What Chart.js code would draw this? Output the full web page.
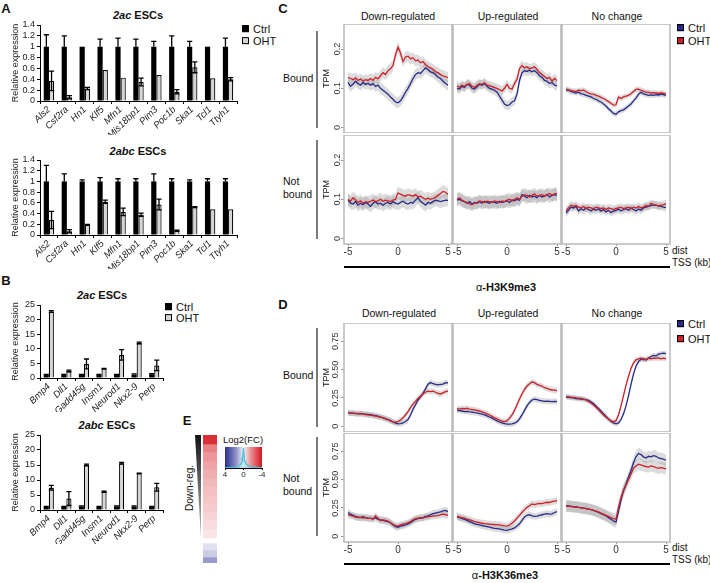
<!DOCTYPE html>
<html>
<head>
<meta charset="utf-8">
<script src="https://cdn.jsdelivr.net/npm/chart.js@4.4.0/dist/chart.umd.min.js"></script>
<style>
  body { margin: 0; background: #fff; }
  #fig { position: relative; width: 710px; height: 583px; overflow: hidden;
         font-family: "Liberation Sans", Arial, sans-serif; color: #111; }
  #fig canvas { position: absolute; }
  .t { position: absolute; white-space: nowrap; transform: translate(-50%, -50%); font-size: 10px; line-height: 1.25; }
  .l { transform: translate(0, -50%); }
  .pl { font-weight: bold; font-size: 13px; }
  .ti { font-weight: bold; font-size: 11px; }
  .ft { font-size: 10.5px; }
  .lg { font-size: 11px; }
  .sq { display: inline-block; width: 5px; height: 5px; border: 1px solid #000; margin-right: 4px; vertical-align: 1px; }
  .vbar { position: absolute; width: 2px; background: #7a7a7a; }
  .hl { position: absolute; height: 2px; background: #000; }
</style>
</head>
<body>
<div id="fig">
  <!-- panel letters -->
  <div class="t pl" style="left:6px;top:9px">A</div>
  <div class="t pl" style="left:6px;top:281px">B</div>
  <div class="t pl" style="left:283px;top:9px">C</div>
  <div class="t pl" style="left:283px;top:305px">D</div>
  <div class="t pl" style="left:187px;top:421px">E</div>

  <!-- A / B titles and legends -->
  <div class="t ti" style="left:138px;top:16px"><i>2ac</i> ESCs</div>
  <div class="t ti" style="left:138px;top:152px"><i>2abc</i> ESCs</div>
  <div class="t ti" style="left:102px;top:296px"><i>2ac</i> ESCs</div>
  <div class="t ti" style="left:107px;top:426px"><i>2abc</i> ESCs</div>
  <div class="t l lg" style="left:242px;top:30px"><span class="sq" style="background:#000"></span>Ctrl</div>
  <div class="t l lg" style="left:242px;top:42px"><span class="sq" style="background:#d6d6d6"></span>OHT</div>
  <div class="t l lg" style="left:165px;top:308px"><span class="sq" style="background:#000"></span>Ctrl</div>
  <div class="t l lg" style="left:165px;top:319px"><span class="sq" style="background:#d6d6d6"></span>OHT</div>

  <!-- C -->
  <div class="t ft" style="left:398px;top:17px">Down-regulated</div>
  <div class="t ft" style="left:508px;top:17px">Up-regulated</div>
  <div class="t ft" style="left:617px;top:17px">No change</div>
  <div class="t l lg" style="left:677px;top:29px"><span class="sq" style="background:#262b8c"></span>Ctrl</div>
  <div class="t l lg" style="left:677px;top:42px"><span class="sq" style="background:#d11f27"></span>OHT</div>
  <div class="t l ft" style="left:283px;top:79px">Bound</div>
  <div class="t l ft" style="left:283px;top:188px">Not<br>bound</div>
  <div class="vbar" style="left:316px;top:31px;height:97px"></div>
  <div class="vbar" style="left:316px;top:140px;height:99px"></div>
  <div class="hl" style="left:344px;top:266px;width:326px"></div>
  <div class="t l" style="left:672px;top:251px">dist</div>
  <div class="t l" style="left:672px;top:263px">TSS (kb)</div>
  <div class="t" style="left:506px;top:288px;font-size:11px">α<b>-H3K9me3</b></div>

  <!-- D -->
  <div class="t ft" style="left:399px;top:314px">Down-regulated</div>
  <div class="t ft" style="left:508px;top:314px">Up-regulated</div>
  <div class="t ft" style="left:617px;top:314px">No change</div>
  <div class="t l lg" style="left:677px;top:325px"><span class="sq" style="background:#262b8c"></span>Ctrl</div>
  <div class="t l lg" style="left:677px;top:340px"><span class="sq" style="background:#d11f27"></span>OHT</div>
  <div class="t l ft" style="left:283px;top:376px">Bound</div>
  <div class="t l ft" style="left:283px;top:485px">Not<br>bound</div>
  <div class="vbar" style="left:316px;top:328px;height:99px"></div>
  <div class="vbar" style="left:316px;top:437px;height:99px"></div>
  <div class="hl" style="left:344px;top:563px;width:326px"></div>
  <div class="t l" style="left:672px;top:548px">dist</div>
  <div class="t l" style="left:672px;top:560px">TSS (kb)</div>
  <div class="t" style="left:505px;top:576px;font-size:11px">α<b>-H3K36me3</b></div>

  <!-- E -->
  <div style="position:absolute;left:195px;top:435px;width:6px;height:105px;background:linear-gradient(#111,#c8c8c8);clip-path:polygon(0 0,100% 0,100% 100%)"></div>
  <div class="t" style="left:190px;top:488px;transform:translate(-50%,-50%) rotate(-90deg);font-size:10px">Down-reg.</div>
  <div class="t" style="left:243px;top:440px;font-size:9.5px">Log2(FC)</div>
</div>

<script>
// ---------- A: qPCR, relative expression ----------
var genesA = ["Als2","Csf2ra","Hn1","Klf5","Mfn1","Mis18bp1","Pim3","Poc1b","Ska1","Tcl1","Ttyh1"];
var ctrlA = [1,1,1,1,1,1,1,1,1,1,1];

var ctrlErrA1 = [0.22,0.2,0,0.14,0.16,0.14,0.1,0.2,0.1,0,0.16];
var ohtA1     = [0.37,0.07,0.23,0.57,0.43,0.35,0.48,0.17,0.62,0.42,0.4];
var ohtErrA1  = [0.18,0.03,0.02,0,0,0.07,0,0.04,0.1,0,0.03];

var ctrlErrA2 = [0.3,0.14,0.03,0.07,0.05,0.05,0.14,0.05,0.03,0.05,0.05];
var ohtA2     = [0.28,0.07,0.19,0.62,0.43,0.38,0.57,0.08,0.52,0.48,0.48];
var ohtErrA2  = [0.16,0.03,0.01,0.03,0.07,0.03,0.1,0.01,0.01,0,0];

var yTicksA  = [0,0.2,0.4,0.6,0.8,1,1.2,1.4];
var yLabelsA = ["0","0.2","0.4","0.6","0.8","1","1.2","1.4"];

// ---------- B ----------
var genesB = ["Bmp4","Dll1","Gadd45g","Insm1","Neurod1","Nkx2-9","Perp"];
var ctrlB1    = [1,1,1,1,1,1.2,1.3];
var ctrlErrB1 = [0.2,0.2,0.2,0.2,0.2,0.2,0.2];
var ohtB1     = [22.8,2.4,4.8,3.2,7.9,12,4.3];
var ohtErrB1  = [0.3,0.3,1.7,0.1,1.8,0.3,1.8];

var ctrlB2    = [1,1,1.2,1,1.2,1.2,1];
var ctrlErrB2 = [0.2,0.2,0.2,0.2,0.2,0.2,0.2];
var ohtB2     = [7.4,3.8,15,6.1,15.6,12.2,7.6];
var ohtErrB2  = [0.8,2.3,0.3,0.2,0.3,0.1,1.3];

var yTicksB  = [0,5,10,15,20,25];
var yLabelsB = ["0","5","10","15","20","25"];

// ---------- C / D: TSS profiles ----------
var profileX = [-5,-4.75,-4.5,-4.25,-4,-3.75,-3.5,-3.25,-3,-2.75,-2.5,-2.25,-2,-1.75,-1.5,-1.25,-1,-0.75,-0.5,-0.25,0,0.25,0.5,0.75,1,1.25,1.5,1.75,2,2.25,2.5,2.75,3,3.25,3.5,3.75,4,4.25,4.5,4.75,5];
var xTicks = [-5,0,5];

// H3K9me3
var cDownBoundCtrl = [0.115,0.105,0.11,0.118,0.112,0.108,0.115,0.11,0.113,0.108,0.112,0.105,0.108,0.1,0.095,0.09,0.085,0.078,0.072,0.065,0.063,0.068,0.078,0.09,0.1,0.112,0.125,0.135,0.14,0.138,0.145,0.152,0.148,0.142,0.14,0.135,0.128,0.125,0.118,0.112,0.108];
var cDownBoundOht  = [0.128,0.125,0.122,0.126,0.12,0.124,0.118,0.122,0.12,0.125,0.12,0.128,0.124,0.132,0.14,0.135,0.145,0.15,0.158,0.185,0.205,0.19,0.168,0.18,0.182,0.175,0.178,0.17,0.172,0.165,0.168,0.16,0.155,0.152,0.148,0.142,0.14,0.135,0.132,0.13,0.127];
var cUpBoundCtrl   = [0.1,0.098,0.105,0.102,0.11,0.108,0.1,0.098,0.104,0.11,0.108,0.112,0.105,0.1,0.098,0.095,0.09,0.08,0.07,0.06,0.056,0.058,0.065,0.068,0.085,0.12,0.14,0.145,0.143,0.146,0.142,0.145,0.14,0.132,0.128,0.12,0.118,0.112,0.115,0.108,0.106];
var cUpBoundOht    = [0.105,0.103,0.108,0.105,0.11,0.112,0.105,0.102,0.108,0.112,0.11,0.114,0.108,0.106,0.104,0.102,0.1,0.097,0.093,0.1,0.11,0.1,0.098,0.112,0.123,0.15,0.158,0.152,0.155,0.15,0.152,0.155,0.148,0.14,0.135,0.13,0.125,0.128,0.118,0.125,0.12];
var cNoneBoundCtrl = [0.096,0.095,0.092,0.09,0.088,0.09,0.086,0.085,0.082,0.08,0.078,0.074,0.072,0.068,0.065,0.06,0.055,0.048,0.042,0.036,0.034,0.04,0.043,0.045,0.05,0.055,0.06,0.068,0.075,0.085,0.09,0.086,0.084,0.082,0.083,0.082,0.084,0.083,0.085,0.084,0.082];
var cNoneBoundOht  = [0.098,0.096,0.094,0.093,0.092,0.095,0.094,0.096,0.092,0.088,0.086,0.085,0.082,0.08,0.077,0.074,0.07,0.066,0.062,0.057,0.058,0.078,0.074,0.078,0.08,0.082,0.086,0.092,0.097,0.098,0.095,0.093,0.09,0.09,0.088,0.089,0.088,0.087,0.088,0.087,0.085];
var cDownFreeCtrl  = [0.098,0.09,0.088,0.094,0.085,0.09,0.086,0.092,0.088,0.082,0.09,0.094,0.088,0.09,0.085,0.09,0.092,0.088,0.094,0.09,0.088,0.092,0.095,0.09,0.088,0.092,0.09,0.098,0.104,0.095,0.09,0.085,0.092,0.09,0.094,0.098,0.096,0.094,0.096,0.098,0.097];
var cDownFreeOht   = [0.1,0.095,0.104,0.098,0.092,0.096,0.09,0.094,0.092,0.095,0.098,0.094,0.096,0.1,0.095,0.098,0.096,0.094,0.098,0.1,0.116,0.113,0.11,0.108,0.112,0.11,0.108,0.112,0.106,0.108,0.104,0.1,0.103,0.1,0.102,0.105,0.11,0.115,0.12,0.118,0.112];
var cUpFreeCtrl    = [0.098,0.1,0.096,0.094,0.09,0.094,0.088,0.092,0.09,0.094,0.09,0.095,0.092,0.09,0.094,0.092,0.09,0.095,0.092,0.094,0.096,0.092,0.098,0.096,0.1,0.098,0.112,0.108,0.104,0.11,0.106,0.108,0.104,0.11,0.106,0.108,0.112,0.106,0.11,0.112,0.11];
var cUpFreeOht     = [0.1,0.104,0.098,0.094,0.092,0.088,0.086,0.09,0.092,0.096,0.094,0.092,0.095,0.094,0.092,0.096,0.094,0.092,0.096,0.094,0.098,0.1,0.096,0.1,0.104,0.1,0.108,0.112,0.11,0.106,0.11,0.114,0.108,0.11,0.112,0.108,0.112,0.115,0.11,0.114,0.115];
var cNoneFreeCtrl  = [0.065,0.072,0.08,0.078,0.082,0.07,0.076,0.072,0.078,0.074,0.07,0.075,0.072,0.076,0.07,0.074,0.068,0.072,0.066,0.07,0.072,0.075,0.07,0.074,0.076,0.072,0.078,0.074,0.07,0.075,0.072,0.078,0.08,0.082,0.084,0.086,0.085,0.083,0.082,0.08,0.079];
var cNoneFreeOht   = [0.07,0.078,0.085,0.082,0.084,0.08,0.078,0.082,0.076,0.08,0.078,0.076,0.08,0.078,0.076,0.078,0.074,0.078,0.076,0.074,0.076,0.078,0.08,0.076,0.078,0.08,0.076,0.08,0.078,0.082,0.078,0.08,0.084,0.082,0.09,0.087,0.085,0.083,0.085,0.086,0.089];
var cBand = [0.014,0.012,0.007,0.016,0.016,0.01];
var cYTicks  = [0,0.1,0.2];
var cYLabels = ["0","0.1","0.2"];

// H3K36me3
var dDownBoundCtrl = [0.118,0.117,0.115,0.114,0.112,0.113,0.11,0.108,0.106,0.102,0.098,0.095,0.09,0.082,0.076,0.068,0.06,0.05,0.038,0.028,0.022,0.024,0.03,0.042,0.06,0.1,0.15,0.19,0.23,0.26,0.29,0.33,0.37,0.385,0.375,0.37,0.365,0.37,0.372,0.385,0.382];
var dDownBoundOht  = [0.12,0.118,0.117,0.112,0.11,0.112,0.108,0.104,0.1,0.098,0.094,0.09,0.086,0.08,0.074,0.066,0.058,0.048,0.04,0.036,0.042,0.055,0.075,0.1,0.13,0.165,0.195,0.22,0.245,0.265,0.285,0.3,0.31,0.305,0.31,0.3,0.29,0.285,0.295,0.305,0.31];
var dUpBoundCtrl   = [0.14,0.138,0.135,0.13,0.132,0.128,0.125,0.12,0.118,0.112,0.108,0.1,0.092,0.082,0.072,0.06,0.048,0.038,0.03,0.024,0.02,0.02,0.022,0.028,0.04,0.065,0.1,0.14,0.18,0.21,0.232,0.24,0.235,0.228,0.225,0.22,0.222,0.22,0.218,0.22,0.218];
var dUpBoundOht    = [0.155,0.152,0.158,0.155,0.16,0.152,0.15,0.145,0.14,0.135,0.128,0.12,0.11,0.1,0.088,0.075,0.065,0.055,0.046,0.042,0.05,0.07,0.1,0.14,0.19,0.24,0.285,0.325,0.355,0.375,0.39,0.385,0.37,0.36,0.355,0.34,0.335,0.325,0.32,0.318,0.315];
var dNoneBoundCtrl = [0.258,0.255,0.252,0.25,0.245,0.242,0.24,0.238,0.235,0.228,0.215,0.2,0.18,0.158,0.135,0.11,0.088,0.065,0.045,0.03,0.022,0.03,0.06,0.11,0.18,0.27,0.37,0.46,0.53,0.57,0.59,0.595,0.585,0.6,0.615,0.625,0.62,0.635,0.64,0.645,0.64];
var dNoneBoundOht  = [0.262,0.26,0.257,0.255,0.25,0.248,0.245,0.24,0.232,0.22,0.205,0.188,0.168,0.145,0.122,0.1,0.08,0.062,0.048,0.04,0.05,0.1,0.18,0.27,0.36,0.44,0.51,0.56,0.585,0.595,0.6,0.585,0.59,0.6,0.595,0.6,0.598,0.602,0.595,0.6,0.594];
var dDownFreeCtrl  = [0.21,0.195,0.185,0.175,0.17,0.165,0.172,0.165,0.16,0.158,0.155,0.165,0.15,0.145,0.14,0.135,0.13,0.12,0.1,0.085,0.08,0.09,0.095,0.1,0.11,0.12,0.135,0.15,0.155,0.16,0.165,0.175,0.18,0.19,0.2,0.205,0.21,0.215,0.225,0.228,0.218];
var dDownFreeOht   = [0.19,0.185,0.178,0.17,0.165,0.168,0.16,0.165,0.158,0.16,0.15,0.18,0.16,0.14,0.145,0.14,0.135,0.12,0.105,0.095,0.09,0.1,0.108,0.112,0.12,0.13,0.145,0.155,0.16,0.165,0.16,0.17,0.172,0.175,0.178,0.18,0.182,0.19,0.195,0.19,0.185];
var dUpFreeCtrl    = [0.17,0.165,0.155,0.15,0.14,0.13,0.12,0.11,0.105,0.1,0.095,0.09,0.085,0.08,0.075,0.07,0.068,0.065,0.06,0.055,0.052,0.06,0.065,0.075,0.09,0.11,0.14,0.17,0.185,0.19,0.18,0.175,0.178,0.185,0.19,0.195,0.2,0.195,0.198,0.21,0.218];
var dUpFreeOht     = [0.175,0.17,0.165,0.16,0.152,0.145,0.138,0.13,0.125,0.12,0.115,0.112,0.11,0.108,0.106,0.104,0.103,0.1,0.096,0.092,0.09,0.1,0.115,0.135,0.16,0.185,0.21,0.235,0.255,0.27,0.285,0.28,0.285,0.29,0.288,0.295,0.3,0.298,0.305,0.31,0.315];
var dNoneFreeCtrl  = [0.27,0.268,0.265,0.26,0.262,0.255,0.252,0.248,0.245,0.24,0.235,0.228,0.22,0.21,0.2,0.19,0.18,0.165,0.15,0.135,0.125,0.22,0.32,0.4,0.46,0.52,0.58,0.65,0.7,0.73,0.72,0.7,0.69,0.705,0.7,0.71,0.705,0.69,0.685,0.68,0.67];
var dNoneFreeOht   = [0.265,0.265,0.262,0.26,0.258,0.255,0.25,0.248,0.245,0.24,0.235,0.228,0.222,0.215,0.205,0.195,0.185,0.175,0.165,0.155,0.15,0.26,0.34,0.41,0.45,0.5,0.55,0.6,0.62,0.635,0.63,0.62,0.615,0.61,0.62,0.615,0.605,0.6,0.605,0.6,0.595];
var dBand = [0.025,0.025,0.022,0.03,0.03,0.05];
var dYTicks  = [0,0.25,0.5,0.75];
var dYLabels = ["0","0.25","0.50","0.75"];

// ---------- E ----------
var eLog2FC = [-3.6,-2.2,-1.8,-1.6,-1.4,-1.25,-1.1,-1.0,-0.9,-0.75,-0.6,-0.45,null,0.6,1.0,2.0];
var eRows   = [9,8,9,8,9,8,9,8,9,8,9,9,5,7,7,6];
var densX = [-4,-3,-2,-1.5,-1,-0.6,-0.3,-0.15,0,0.15,0.3,0.6,1,1.5,2,3,4];
var densY = [0.02,0.03,0.05,0.08,0.12,0.2,0.35,0.6,1,0.55,0.3,0.18,0.1,0.06,0.04,0.02,0.01];
var fcTicks = [4,0,-4];
var fcTickLabels = ["4","0","-4"];

// =====================================================
var fig = document.getElementById("fig");
Chart.defaults.font.family = '"Liberation Sans", Arial, sans-serif';
Chart.defaults.color = "#222";
Chart.defaults.animation = false;

function addCanvas(left, top, w, h) {
  var c = document.createElement("canvas");
  c.width = w; c.height = h;
  c.style.left = left + "px"; c.style.top = top + "px";
  c.style.width = w + "px"; c.style.height = h + "px";
  fig.appendChild(c);
  return c;
}

// error bars for the qPCR charts
var errorBars = {
  id: "errorBars",
  afterDatasetsDraw: function (chart) {
    var g = chart.ctx, y = chart.scales.y;
    g.save();
    g.strokeStyle = "#000";
    g.lineWidth = 1.3;
    chart.data.datasets.forEach(function (ds, di) {
      chart.getDatasetMeta(di).data.forEach(function (bar, i) {
        var e = ds.err[i];
        if (!e) return;
        var v = ds.data[i];
        var top = y.getPixelForValue(v + e);
        var bot = y.getPixelForValue(ds.upOnly ? v : v - e);
        var hw = bar.width / 2;
        g.beginPath();
        g.moveTo(bar.x, bot); g.lineTo(bar.x, top);
        g.moveTo(bar.x - hw, top); g.lineTo(bar.x + hw, top);
        if (!ds.upOnly) { g.moveTo(bar.x - hw, bot); g.lineTo(bar.x + hw, bot); }
        g.stroke();
      });
    });
    g.restore();
  }
};

function expressionChart(pos, genes, ctrl, ctrlErr, oht, ohtErr, yTicks, yLabels) {
  // pos = canvas left, top, width, height; plot area starts 6px below the canvas top
  var cv = addCanvas(pos[0], pos[1], pos[2], pos[3]);
  new Chart(cv, {
    type: "bar",
    data: {
      labels: genes,
      datasets: [
        { label: "Ctrl", data: ctrl, err: ctrlErr, upOnly: true, backgroundColor: "#000", borderWidth: 0 },
        { label: "OHT", data: oht, err: ohtErr, backgroundColor: "#d6d6d6", borderColor: "#000", borderWidth: 1.2 }
      ]
    },
    options: {
      responsive: false, events: [],
      layout: { padding: { top: 6, right: 3, bottom: 6, left: 0 } },
      datasets: { bar: { categoryPercentage: 0.58, barPercentage: 1 } },
      plugins: { legend: { display: false }, tooltip: { enabled: false } },
      scales: {
        x: {
          grid: { offset: true, drawOnChartArea: false, tickLength: 3, color: "#000" },
          border: { color: "#000" },
          ticks: { autoSkip: false, minRotation: 45, maxRotation: 45, padding: 0,
                   font: { size: 9.5, style: "italic" }, color: "#222" },
          afterFit: function (s) { s.height = 34; s.paddingLeft = 0; s.paddingRight = 0; }
        },
        y: {
          min: yTicks[0], max: yTicks[yTicks.length - 1],
          afterBuildTicks: function (s) { s.ticks = yTicks.map(function (v) { return { value: v }; }); },
          ticks: { autoSkip: false, callback: function (v) { return yLabels[yTicks.indexOf(v)]; },
                   font: { size: 9 }, color: "#222", padding: 2 },
          grid: { drawOnChartArea: false, tickLength: 3, color: "#000" },
          border: { color: "#000" },
          title: { display: true, text: "Relative expression", font: { size: 9 }, padding: { top: 2, bottom: 0 }, color: "#222" },
          afterFit: function (s) { s.width = 32; s.paddingTop = 0; s.paddingBottom = 0; }
        }
      }
    },
    plugins: [errorBars]
  });
}

expressionChart([8, 19, 232, 122], genesA, ctrlA, ctrlErrA1, ohtA1, ohtErrA1, yTicksA, yLabelsA);
expressionChart([8, 154, 232, 121], genesA, ctrlA, ctrlErrA2, ohtA2, ohtErrA2, yTicksA, yLabelsA);
expressionChart([8, 299, 158, 119], genesB, ctrlB1, ctrlErrB1, ohtB1, ohtErrB1, yTicksB, yLabelsB);
expressionChart([8, 429, 158, 121], genesB, ctrlB2, ctrlErrB2, ohtB2, ohtErrB2, yTicksB, yLabelsB);

// ---------- profile facets ----------
var panelBox = {
  id: "panelBox",
  afterDatasetsDraw: function (chart) {
    var a = chart.chartArea, g = chart.ctx;
    g.save();
    g.strokeStyle = "#b8b8b8";
    g.lineWidth = 1.5;
    g.strokeRect(a.left, a.top, a.right - a.left, a.bottom - a.top);
    g.restore();
  }
};

var colX = [344, 453, 562];
var BOX_W = 108, BOX_H = 109;
var BAND = "rgba(150,150,150,0.33)";

function profile(col, row, rowY, ctrl, oht, band, ylim, yTicks, yLabels) {
  var showY = col === 0, showX = row === 1;
  var padX = 6, axW = showY ? 26 : 0, axH = showX ? 14 : 0;
  var W = BOX_W + axW + 2 * padX, H = BOX_H + axH;
  var cv = addCanvas(colX[col] - axW - padX, rowY[row], W, H);
  function pts(a, d) { return profileX.map(function (x, i) { return { x: x, y: a[i] + d }; }); }
  new Chart(cv, {
    type: "line",
    data: {
      datasets: [
        { label: "OHT", data: pts(oht, 0), borderColor: "#d11f27", borderWidth: 1.3, pointRadius: 0, fill: false },
        { label: "Ctrl", data: pts(ctrl, 0), borderColor: "#262b8c", borderWidth: 1.3, pointRadius: 0, fill: false },
        { data: pts(oht, band), borderWidth: 0, pointRadius: 0, fill: false },
        { data: pts(oht, -band), borderWidth: 0, pointRadius: 0, fill: "-1", backgroundColor: BAND },
        { data: pts(ctrl, band), borderWidth: 0, pointRadius: 0, fill: false },
        { data: pts(ctrl, -band), borderWidth: 0, pointRadius: 0, fill: "-1", backgroundColor: BAND }
      ]
    },
    options: {
      responsive: false, events: [],
      layout: { padding: { left: padX, right: padX, top: 0, bottom: 0 } },
      plugins: { legend: { display: false }, tooltip: { enabled: false } },
      scales: {
        x: {
          type: "linear", min: -5.4, max: 5.4, display: showX,
          afterBuildTicks: function (s) { s.ticks = xTicks.map(function (v) { return { value: v }; }); },
          ticks: { font: { size: 10 }, color: "#333", padding: 0, maxRotation: 0, autoSkip: false },
          grid: { drawOnChartArea: false, tickLength: 2, color: "#999" },
          border: { display: false },
          afterFit: function (s) { if (showX) { s.height = 14; s.paddingLeft = 0; s.paddingRight = 0; } }
        },
        y: {
          min: ylim[0], max: ylim[1], display: showY,
          afterBuildTicks: function (s) { s.ticks = yTicks.map(function (v) { return { value: v }; }); },
          ticks: { minRotation: 90, maxRotation: 90, crossAlign: "center", padding: -3, autoSkip: false,
                   font: { size: 9 }, color: "#333",
                   callback: function (v) { return yLabels[yTicks.indexOf(v)]; } },
          grid: { drawOnChartArea: false, tickLength: 3, color: "#999" },
          border: { display: false },
          title: { display: true, text: "TPM", font: { size: 9 }, padding: { top: 3, bottom: 0 }, color: "#111" },
          afterFit: function (s) { if (showY) { s.width = 26; s.paddingTop = 0; s.paddingBottom = 0; } }
        }
      }
    },
    plugins: [panelBox]
  });
}

var cSeries = [
  [cDownBoundCtrl, cDownBoundOht], [cUpBoundCtrl, cUpBoundOht], [cNoneBoundCtrl, cNoneBoundOht],
  [cDownFreeCtrl, cDownFreeOht], [cUpFreeCtrl, cUpFreeOht], [cNoneFreeCtrl, cNoneFreeOht]
];
var dSeries = [
  [dDownBoundCtrl, dDownBoundOht], [dUpBoundCtrl, dUpBoundOht], [dNoneBoundCtrl, dNoneBoundOht],
  [dDownFreeCtrl, dDownFreeOht], [dUpFreeCtrl, dUpFreeOht], [dNoneFreeCtrl, dNoneFreeOht]
];
cSeries.forEach(function (s, i) {
  profile(i % 3, Math.floor(i / 3), [24, 135], s[0], s[1], cBand[i], [-0.014, 0.264], cYTicks, cYLabels);
});
dSeries.forEach(function (s, i) {
  profile(i % 3, Math.floor(i / 3), [323, 433], s[0], s[1], dBand[i], [-0.05, 0.91], dYTicks, dYLabels);
});

// ---------- E: heatmap column + colour key ----------
function fcColor(v) {
  if (v === null) return "#ffffff";
  var t = Math.min(1, Math.abs(v) / 4);
  var end = v < 0 ? [214, 24, 32] : [50, 50, 150];
  return "rgb(" + end.map(function (c) { return Math.round(255 + (c - 255) * t); }).join(",") + ")";
}

var heatCv = addCanvas(203, 435, 14, 128);
new Chart(heatCv, {
  type: "bar",
  data: {
    labels: ["genes"],
    datasets: eLog2FC.map(function (v, i) {
      return { data: [eRows[i]], backgroundColor: fcColor(v), borderWidth: 0, barPercentage: 1, categoryPercentage: 1 };
    })
  },
  options: {
    responsive: false, events: [],
    layout: { padding: 0 },
    plugins: { legend: { display: false }, tooltip: { enabled: false } },
    scales: {
      x: { stacked: true, display: false },
      y: { stacked: true, display: false, reverse: true, min: 0, max: eRows.reduce(function (a, b) { return a + b; }, 0) }
    }
  }
});

var fcGradient = {
  id: "fcGradient",
  beforeDatasetsDraw: function (chart) {
    var a = chart.chartArea, g = chart.ctx;
    var gr = g.createLinearGradient(a.left, 0, a.right, 0);
    gr.addColorStop(0, "#2a2d8c");
    gr.addColorStop(0.3, "#8e91c9");
    gr.addColorStop(0.5, "#f4f4f8");
    gr.addColorStop(0.7, "#ea8e92");
    gr.addColorStop(1, "#d4161e");
    g.save();
    g.fillStyle = gr;
    g.fillRect(a.left, a.top, a.right - a.left, a.bottom - a.top);
    g.restore();
  }
};

var fcCv = addCanvas(219, 444, 48, 36);
new Chart(fcCv, {
  type: "line",
  data: {
    datasets: [{
      data: densX.map(function (x, i) { return { x: x, y: densY[i] }; }),
      borderColor: "#4fc4d8", borderWidth: 1.3, pointRadius: 0,
      fill: "origin", backgroundColor: "rgba(150,222,236,0.45)"
    }]
  },
  options: {
    responsive: false, events: [],
    layout: { padding: { left: 6, right: 5, top: 3, bottom: 0 } },
    plugins: { legend: { display: false }, tooltip: { enabled: false } },
    scales: {
      x: {
        type: "linear", reverse: true, min: -4, max: 4,
        afterBuildTicks: function (s) { s.ticks = fcTicks.map(function (v) { return { value: v }; }); },
        ticks: { font: { size: 8 }, padding: 0, maxRotation: 0, color: "#222",
                 callback: function (v) { return fcTickLabels[fcTicks.indexOf(v)]; } },
        grid: { drawOnChartArea: false, tickLength: 2, color: "#000" },
        border: { color: "#000" },
        afterFit: function (s) { s.height = 12; s.paddingLeft = 0; s.paddingRight = 0; }
      },
      y: { display: false, min: 0, max: 1.05 }
    }
  },
  plugins: [fcGradient]
});
</script>
</body>
</html>
